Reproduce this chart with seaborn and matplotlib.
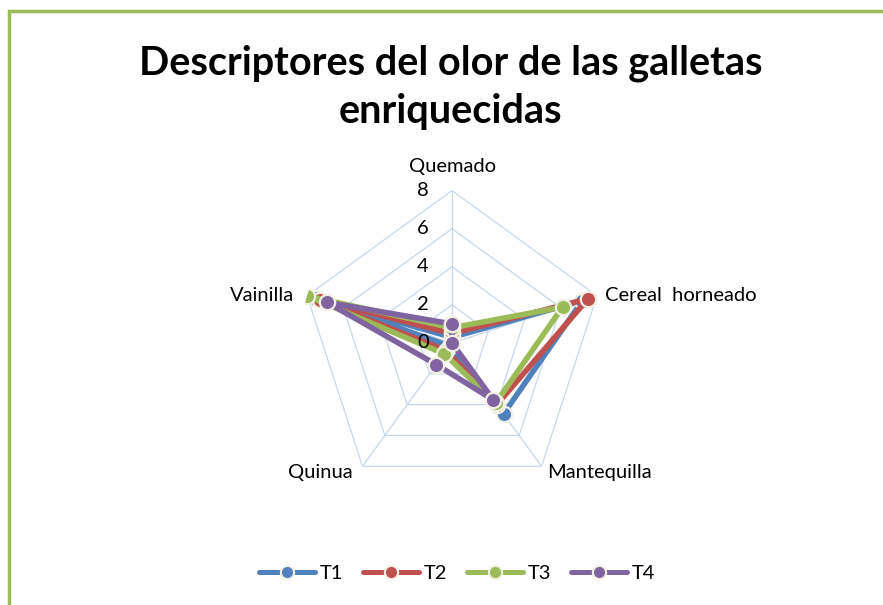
import numpy as np
import pandas as pd
import matplotlib
matplotlib.use("Agg")
import matplotlib.pyplot as plt
from matplotlib.lines import Line2D
from matplotlib.patches import Rectangle
import seaborn as sns

# Data
descriptores = ["Quemado", "Cereal  horneado", "Mantequilla", "Quinua", "Vainilla"]
series = ["T1", "T2", "T3", "T4"]
t1 = [0.3, 7.2, 4.6, 0.2, 7.6]
t2 = [0.5, 7.5, 4.0, 0.5, 7.3]
t3 = [0.8, 6.1, 3.9, 0.7, 8.0]
t4 = [1.0, 0.0, 3.7, 1.4, 6.9]
ticks = [0, 2, 4, 6, 8]

colors = ["#4F81BD", "#C0504D", "#9BBB59", "#8064A2"]
grid_color = "#c6d8ee"
edge_color = "#f2f0e4"

sns.set_style("white")
plt.rcParams["font.family"] = ["Lato", "DejaVu Sans"]
plt.rcParams["text.color"] = "black"

n = len(descriptores)
angles = np.linspace(0, 2 * np.pi, n, endpoint=False)

# long table, closing each polygon
rows = []
for name, vals in zip(series, [t1, t2, t3, t4]):
    for i in range(n + 1):
        k = i % n
        rows.append({"serie": name, "theta": angles[k] if i < n else 2 * np.pi,
                     "valor": vals[k]})
df = pd.DataFrame(rows)

fig = plt.figure(figsize=(8.83, 6.05), dpi=100)
cx, cy, rad = 452, 343, 152.4
W, H = 883, 605
ax = fig.add_axes([(cx - rad) / W, (H - cy - rad) / H, 2 * rad / W, 2 * rad / H],
                  projection="polar")
ax.set_theta_offset(np.pi / 2)
ax.set_theta_direction(-1)
ax.set_ylim(0, 8)
ax.grid(False)
ax.set_xticks([])
ax.set_yticks([])
ax.spines["polar"].set_visible(False)
ax.patch.set_alpha(0)

# pentagon grid
closed = np.append(angles, angles[0])
for r in ticks[1:]:
    ax.plot(closed, [r] * (n + 1), color=grid_color, lw=0.9, zorder=0)
for a in angles:
    ax.plot([a, a], [0, 8], color=grid_color, lw=0.9, zorder=0)

sns.lineplot(data=df, x="theta", y="valor", hue="serie", hue_order=series,
             palette=colors, sort=False, estimator=None, legend=False,
             lw=4, marker="o", ms=11, mec=edge_color, mew=1.6, ax=ax)

# radial tick labels
for r in ticks:
    ax.annotate(str(r), xy=(0, r), xytext=(-23, 0), textcoords="offset pixels",
                ha="right", va="center", fontsize=14.5, annotation_clip=False)

# category labels
offsets = [(0, 24, "center"), (8, 0, "left"), (6, -6, "left"),
           (-10, -6, "right"), (-13, 0, "right")]
for a, lab, (dx, dy, ha) in zip(angles, descriptores, offsets):
    ax.annotate(lab, xy=(a, 8), xytext=(dx, dy), textcoords="offset pixels",
                ha=ha, va="center", fontsize=14.5, annotation_clip=False)

fig.text(0.51, 1 - 87 / H, "Descriptores del olor de las galletas\nenriquecidas",
         ha="center", va="center", fontsize=28.5, fontweight="bold",
         linespacing=1.38)

handles = [Line2D([], [], color=c, lw=3.6, marker="o", ms=9.5, mec=edge_color, mew=1.5)
           for c in colors]
fig.legend(handles, series, loc="center", bbox_to_anchor=(457 / W, 1 - 573 / H),
           ncol=4, frameon=False, handlelength=2.8, handletextpad=0.2,
           columnspacing=1.0, fontsize=14.5)

# chart area border
fig.patches.append(Rectangle((9 / W, -0.2), 1.2, 1.2 - 11 / H,
                             transform=fig.transFigure, fill=False,
                             edgecolor="#9BBB59", lw=2.5))

fig.savefig("out.png", dpi=100)
